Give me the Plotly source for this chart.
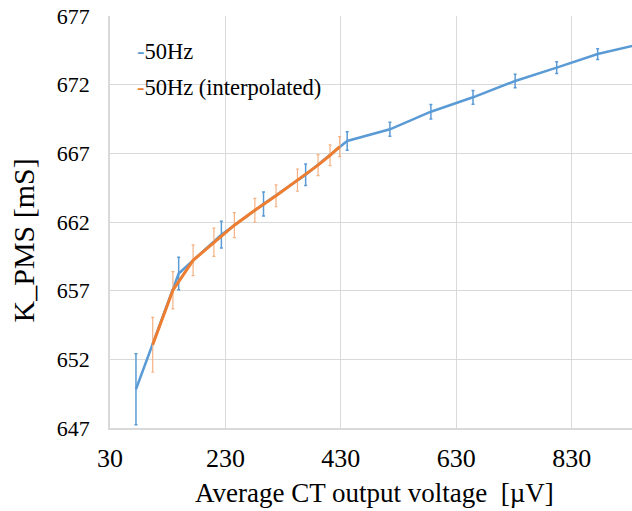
import plotly.graph_objects as go

# Measured series (50 Hz)
v_meas = [75, 149, 223, 296, 369, 441, 515, 586, 659, 732, 804, 875, 946]
k_meas = [649.82, 658.25, 661.08, 663.31, 665.44, 667.90, 668.75, 670.03,
          671.08, 672.27, 673.24, 674.23, 674.93]
k_meas_err = [2.58, 1.19, 0.97, 0.87, 0.79, 0.68, 0.51, 0.53, 0.50, 0.49,
              0.42, 0.39, 0.37]

# Interpolated series (50 Hz)
v_interp = [104, 139, 174, 210, 245.5, 281, 317.7, 354.8, 390.5, 411.3, 428]
k_interp = [653.06, 657.03, 659.21, 660.53, 661.77, 662.85, 663.91, 665.05,
            666.14, 666.86, 667.49]
k_interp_err = [2.00, 1.36, 1.12, 1.03, 0.91, 0.87, 0.80, 0.81, 0.76, 0.75,
                0.73]

series_names = ["50Hz", "50Hz (interpolated)"]
x_ticks = [30, 230, 430, 630, 830]
y_ticks = [647, 652, 657, 662, 667, 672, 677]

BLUE = "#5B9BD5"
ORANGE = "#ED7D31"
ORANGE_LIGHT = "#F4B183"
SERIF = "Liberation Serif"

fig = go.Figure()
fig.add_trace(go.Scatter(
    x=v_meas, y=k_meas, mode="lines", name=series_names[0],
    line=dict(color=BLUE, width=2.5),
    error_y=dict(type="data", array=k_meas_err, visible=True,
                 color=BLUE, thickness=1.5, width=1.5),
    showlegend=False,
))
fig.add_trace(go.Scatter(
    x=v_interp, y=k_interp, mode="lines", name=series_names[1],
    line=dict(color=ORANGE, width=3),
    error_y=dict(type="data", array=k_interp_err, visible=True,
                 color=ORANGE_LIGHT, thickness=1.2, width=1.5),
    showlegend=False,
))

# Compact legend: short coloured key directly before each label
legend_y = [0.915, 0.827]
for name, col, yy in zip(series_names, [BLUE, ORANGE], legend_y):
    fig.add_annotation(
        xref="paper", yref="paper", x=0.048, y=yy, xanchor="left",
        yanchor="middle", showarrow=False,
        text=f"<span style='color:{col}'>-</span>{name}",
        font=dict(family=SERIF, size=22.5, color="#000000"),
    )

# Axis titles
fig.add_annotation(
    xref="paper", yref="paper", x=0.506, y=-0.158, xanchor="center",
    yanchor="middle", showarrow=False,
    text="Average CT output voltage  [µV]",
    font=dict(family=SERIF, size=27, color="#000000"),
)
fig.add_annotation(
    xref="paper", yref="paper", x=-0.165, y=0.455, xanchor="center",
    yanchor="middle", showarrow=False, textangle=-90,
    text="K_PMS [mS]",
    font=dict(family=SERIF, size=30, color="#000000"),
)

fig.update_xaxes(
    range=[30, 934.5], tickvals=x_ticks, ticktext=[str(t) for t in x_ticks],
    showgrid=True, gridcolor="#D9D9D9", gridwidth=1,
    showline=True, linecolor="#D9D9D9", linewidth=1.5,
    zeroline=False, ticks="", ticklabelstandoff=6,
    tickfont=dict(family=SERIF, size=26, color="#000000"),
)
fig.update_yaxes(
    range=[647, 677], tickvals=y_ticks, ticktext=[str(t) for t in y_ticks],
    showgrid=True, gridcolor="#D9D9D9", gridwidth=1,
    showline=True, linecolor="#D9D9D9", linewidth=1.5,
    zeroline=False, ticks="", ticklabelstandoff=14,
    tickfont=dict(family=SERIF, size=22, color="#000000"),
)

fig.update_layout(
    width=632, height=511,
    margin=dict(l=110, r=0, t=16, b=83),
    paper_bgcolor="#FFFFFF", plot_bgcolor="#FFFFFF",
)

fig.write_html("out.html")
